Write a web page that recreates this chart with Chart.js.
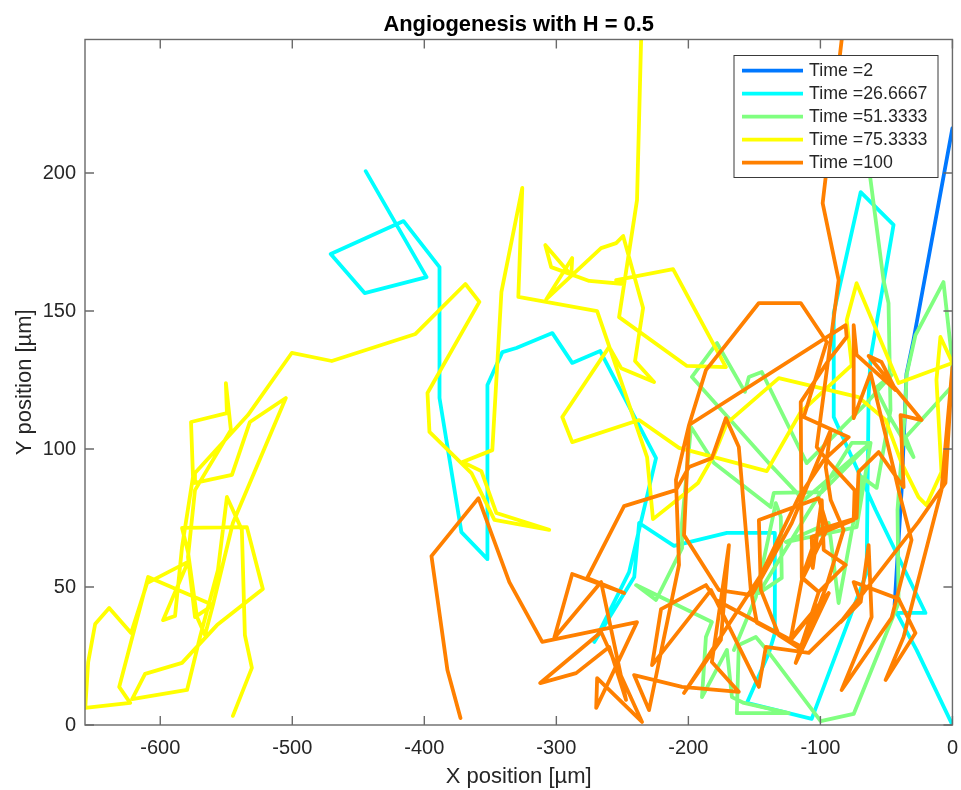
<!DOCTYPE html>
<html>
<head>
<meta charset="utf-8">
<title>Angiogenesis with H = 0.5</title>
<script src="https://cdn.jsdelivr.net/npm/chart.js@4"></script>
<style>
html, body { margin: 0; padding: 0; background: #fff; }
canvas { display: block; }
</style>
</head>
<body>
<canvas id="grafico" width="961" height="790"></canvas>
<script>
// Tick labels
const xTicks = [-600, -500, -400, -300, -200, -100, 0];
const yTicks = [0, 50, 100, 150, 200];

// Time = 2
const xT1 = [0, -29.5, -34.8, -38.5, -43.8];
const yT1 = [216.3, 139.5, 127.2, 85.1, 43.5];

// Time = 26.6667
const xT2 = [0, -27.2, -42.3, -20.4, -58.2, -89.9, -89.9, -69.5, -44.6, -62, -63.5, -65, -106.6, -155.7, -139, -134.5, -134.5, -170.8, -199.5, -210.9, -237.3, -241, -271.3, -244.9, -224.5, -266.8, -288, -303, -330.3, -340.9, -352.2, -352.2, -371.9, -388.5, -388.5, -415.7, -470.9, -445.2, -398.3, -444.4];
const yT2 = [0, 27.2, 40.6, 40.6, 77.9, 111.6, 149.3, 193.1, 181.2, 133, 118.8, 55.1, 2.2, 8, 26.1, 33.3, 69.6, 69.6, 66.3, 64.9, 73.2, 53.6, 30.1, 55.4, 96.7, 135.5, 131.2, 142, 136.6, 135.1, 123.2, 60.1, 69.9, 118.5, 165.9, 182.6, 170.7, 156.5, 162.3, 200.7];

// Time = 51.3333
const xT3 = [-63.5, -52.2, -48.4, -46.9, -57.4, -68.8, -86.2, -93.7, -126.2, -72.6, -62, -99, -135.3, -137.6, -180.6, -198, -204.8, -204.8, -224.5, -239.6, -182.2, -186.7, -189.7, -170.8, -167, -158, -124, -163.3, -161.8, -148.9, -140.6, -99.8, -74.8, -40.8, -41.6, -35.5, -34.8, -28, -6.8, 0, -0.8, -35.5, -29.5, -46.1, -58.2, -46.1, -65, -110.4, -144.4, -154.2, -157.2, -178.4, -197.3, -139.1, -112.6, -62, -76.3, -110.4, -146.6, -129.3, -130, -133.8, -148.9, -165.5];
const yT3 = [202.9, 161.2, 152.9, 114.1, 85.9, 89.9, 44.2, 73.2, 66.3, 71.7, 102.2, 84.4, 84.1, 79, 94.9, 108, 73.2, 64.1, 45.3, 50.7, 37.3, 31.9, 10.1, 27.2, 10.1, 8, 4.3, 4.3, 29, 31.9, 27.2, 1.4, 4, 44.2, 77.9, 116.7, 126.8, 141.3, 160.5, 131.2, 122.5, 104.3, 97.1, 110.5, 122.1, 126.8, 116.7, 94.9, 127.9, 126.1, 120.7, 138.4, 126.1, 94.9, 81.5, 102.2, 102.2, 76.1, 47.8, 53.3, 75.4, 80.4, 46.4, 27.2];

// Time = 75.3333
const xT4 = [-545, -530.6, -535.9, -538.2, -549.5, -556.3, -569.9, -579.7, -621.3, -611.5, -583.5, -557, -522.3, -534.4, -583.5, -579, -572.2, -566.1, -560.1, -609.2, -631.1, -622.8, -656.8, -654.6, -649.3, -638.7, -622.1, -610, -579, -597.9, -588.8, -583.5, -575.2, -576.7, -549.5, -550.3, -546.5, -573.7, -579, -573.7, -560.1, -545, -504.9, -532.1, -545.7, -573.7, -573.7, -533.6, -500.4, -470.1, -406.7, -368.9, -358.3, -397.6, -396.1, -364.3, -346.9, -305.4, -345.4, -356.8, -371.1, -348.5, -341.6, -325.8, -328.8, -269.1, -231.3, -226.8, -208.6, -192.7, -180.6, -170.8, -131.5, -71.1, -50.6, -38.5, -25.7, -19.7, -8.3, -12.1, -9.1, 0, -40.8, -72.6, -80.1, -76.3, -114.9, -140.6, -207.1, -237.3, -288, -295.5, -260, -250.9, -226, -240.4, -234.3, -249.4, -254.7, -266.1, -307.6, -288, -288.7, -308.4, -303.9, -275.1, -248.7, -254.7, -211.6, -171.6, -201.1, -252.5, -238.9, -235.8, -235];
const yT4 = [3.3, 20.7, 32.6, 70.7, 82.6, 56.2, 31.9, 12.7, 9.4, 18.5, 22.5, 36.2, 49.3, 71.7, 71.4, 62.7, 39.1, 32.6, 43.5, 53.6, 13.8, 8, 6.2, 22.8, 36.6, 42.4, 33.3, 51.4, 59.1, 38, 39.5, 64.5, 89.9, 109.8, 113, 123.9, 106.9, 85.1, 60.9, 39.1, 43.5, 73.2, 118.5, 109.8, 90.6, 87.7, 91.3, 112.3, 134.8, 131.9, 141.7, 159.8, 153.3, 120.3, 106.2, 91.3, 74.3, 70.7, 76.8, 92, 95.3, 99.6, 156.9, 194.6, 155.1, 150, 97.1, 74.6, 81.5, 87.7, 97.8, 109.4, 125.7, 118.8, 110.5, 94.9, 82.6, 79.7, 91.7, 125, 140.6, 131.2, 123.9, 160.1, 146.7, 130.4, 113.4, 92, 100.4, 110.5, 102.5, 111.6, 137, 129.3, 124.3, 131.9, 151.1, 177.2, 174.6, 172.8, 154.3, 169.2, 163, 173.9, 165.9, 160.9, 159.8, 161.2, 165.2, 129.7, 130.1, 147.8, 190.2, 248.2, 262.7];

// Time = 100
const xT5 = [-372.6, -382.5, -394.6, -359, -335.6, -310.7, -238.9, -269.8, -269.1, -235.1, -266.1, -312.2, -285, -260, -247.2, -266.1, -301.6, -288, -248.7, -276.6, -248.7, -209.4, -199.5, -182.2, -171.6, -161.8, -152.7, -148.1, -114.1, -93.7, -118.7, -101.3, -114.1, -114.9, -93.7, -80.1, -80.9, -199.5, -209.4, -207.1, -229.8, -241.1, -204.8, -161.8, -182.2, -169.3, -175.4, -203.3, -145.1, -116.4, -97.5, -78.6, -112.6, -95.2, -114.9, -146.6, -186.7, -199.5, -203.3, -176.9, -151.9, -121.7, -92.2, -96, -92.2, -82.4, -95.2, -114.1, -131.5, -145.1, -146.6, -101.3, -94.5, -114.1, -122.4, -93.7, -122.4, -179.1, -186.7, -220.7, -227.5, -182.9, -146.6, -141.3, -108.8, -69.5, -74.8, -40.8, -28, -50.6, -37, -8.3, 0, -5.3, -25.7, -84.7, -69.5, -63.5, -61.2, -83.9, -46.1, -31, -40.8, -43.1, -62, -74.8, -74.8, -72.6, -43.1, -53.7, -63.5, -23.4, -39.3, -37, -55.9, -71.1, -72.6, -101.3, -114.1, -101.3, -80.9, -97.5, -99, -105.8, -106.6, -74.8, -74.1, -93.7, -102.8, -86.2, -98.3, -83.9, -82.4];
const yT5 = [2.5, 19.9, 61.2, 82.2, 51.8, 30.1, 37.3, 6.2, 17, 1.1, 33.7, 15.2, 18.8, 28.3, 9.1, 51.8, 31.5, 54.7, 47.8, 53.3, 79.3, 85.1, 93.5, 96.7, 111.2, 100.7, 48.9, 37, 28.3, 47.8, 22.5, 48.2, 53.6, 117, 132.2, 140.6, 144.9, 108.7, 88.8, 58, 5.4, 18.1, 13.8, 12, 22.8, 65.2, 30.8, 11.6, 54.3, 82.6, 96, 104.3, 111.6, 138.8, 152.9, 152.9, 128.6, 108.7, 68.8, 48.9, 47.1, 73.2, 106.9, 93.5, 81.5, 70.7, 50.7, 27.2, 32.6, 48.9, 74.3, 82.2, 71.4, 52.5, 31.5, 47.8, 30.8, 45.3, 50.7, 42, 21.7, 48.9, 13.8, 28.3, 26.1, 44.6, 51.8, 45.7, 33.3, 16.3, 31.9, 85.1, 129.7, 87.7, 73.6, 37.3, 44.6, 65.2, 39.1, 12.7, 38.8, 67, 85.1, 89.9, 127.5, 111.2, 144.9, 134.1, 121.4, 131.5, 133.7, 110.5, 112.3, 86.2, 98.9, 91.7, 75, 70.7, 53.3, 48.2, 58, 63.4, 81.5, 56.9, 68.1, 74.3, 85.1, 95.3, 100.7, 161.2, 189.1, 248.2, 255.4];

const nombres = ["Time =2", "Time =26.6667", "Time =51.3333", "Time =75.3333", "Time =100"];
const colores = ["#0078ff", "#00ffff", "#80ff80", "#ffff00", "#ff8000"];
const xSeries = [xT1, xT2, xT3, xT4, xT5];
const ySeries = [yT1, yT2, yT3, yT4, yT5];

const datasets = nombres.map((nombre, i) => ({
    label: nombre,
    data: xSeries[i].map((x, j) => ({ x: x, y: ySeries[i][j] })),
    borderColor: colores[i],
    borderWidth: 3.8,
    borderJoinStyle: 'round',
    borderCapStyle: 'round',
    showLine: true,
    pointRadius: 0,
    tension: 0,
    order: nombres.length - i
}));

const colorTexto = '#262626';
const colorEje = '#6a6a6a';

// Caja con marcas hacia adentro y leyenda, como en MATLAB
const cajaMatlab = {
    id: 'cajaMatlab',
    afterDatasetsDraw(chart) {
        const ctx = chart.ctx;
        const a = chart.chartArea;
        ctx.save();
        ctx.strokeStyle = colorEje;
        ctx.lineWidth = 1.4;
        ctx.strokeRect(a.left, a.top, a.right - a.left, a.bottom - a.top);
        ctx.beginPath();
        chart.scales.x.ticks.forEach(t => {
            const px = chart.scales.x.getPixelForValue(t.value);
            ctx.moveTo(px, a.bottom); ctx.lineTo(px, a.bottom - 9);
            ctx.moveTo(px, a.top); ctx.lineTo(px, a.top + 9);
        });
        chart.scales.y.ticks.forEach(t => {
            const py = chart.scales.y.getPixelForValue(t.value);
            ctx.moveTo(a.left, py); ctx.lineTo(a.left + 9, py);
            ctx.moveTo(a.right, py); ctx.lineTo(a.right - 9, py);
        });
        ctx.stroke();

        // leyenda
        const lx = 734, ly = 55.5, lw = 204, lh = 122;
        ctx.fillStyle = '#fff';
        ctx.fillRect(lx, ly, lw, lh);
        ctx.strokeStyle = '#3a3a3a';
        ctx.lineWidth = 1;
        ctx.strokeRect(lx, ly, lw, lh);
        ctx.font = '17.8px "Liberation Sans"';
        ctx.textBaseline = 'middle';
        chart.data.datasets.forEach((d, i) => {
            const y = ly + 15.2 + i * 23;
            ctx.strokeStyle = d.borderColor;
            ctx.lineWidth = 3.8;
            ctx.beginPath();
            ctx.moveTo(lx + 8, y);
            ctx.lineTo(lx + 69, y);
            ctx.stroke();
            ctx.fillStyle = colorTexto;
            ctx.fillText(d.label, lx + 75, y + 0.5);
        });
        ctx.restore();
    }
};

new Chart(document.getElementById('grafico').getContext('2d'), {
    type: 'scatter',
    data: { datasets: datasets },
    plugins: [cajaMatlab],
    options: {
        responsive: false,
        animation: false,
        devicePixelRatio: 1,
        layout: { padding: { left: 0, right: 7, top: 0, bottom: 0 } },
        plugins: {
            legend: { display: false },
            tooltip: { enabled: false },
            title: {
                display: true,
                fullSize: false,
                text: 'Angiogenesis with H = 0.5',
                color: '#000',
                font: { family: '"Liberation Sans"', size: 21.9, weight: 'bold' },
                padding: { top: 12, bottom: 1.2 }
            }
        },
        scales: {
            x: {
                type: 'linear',
                min: -657,
                max: 0,
                afterBuildTicks: s => { s.ticks = xTicks.map(v => ({ value: v })); },
                afterFit: s => { s.height = 65; },
                grid: { display: false },
                border: { display: false },
                ticks: {
                    color: colorTexto,
                    font: { family: '"Liberation Sans"', size: 20 },
                    maxRotation: 0,
                    padding: 3,
                    callback: v => String(v)
                },
                title: {
                    display: true,
                    text: 'X position [µm]',
                    color: colorTexto,
                    font: { family: '"Liberation Sans"', size: 22 },
                    padding: { top: 2, bottom: 0 }
                }
            },
            y: {
                type: 'linear',
                min: 0,
                max: 248.4,
                afterBuildTicks: s => { s.ticks = yTicks.map(v => ({ value: v })); },
                afterFit: s => { s.width = 85; },
                grid: { display: false },
                border: { display: false },
                ticks: {
                    color: colorTexto,
                    font: { family: '"Liberation Sans"', size: 20 },
                    padding: 1,
                    callback: v => String(v)
                },
                title: {
                    display: true,
                    text: 'Y position [µm]',
                    color: colorTexto,
                    font: { family: '"Liberation Sans"', size: 22 },
                    padding: { top: 12, bottom: 0 }
                }
            }
        }
    }
});
</script>
</body>
</html>
